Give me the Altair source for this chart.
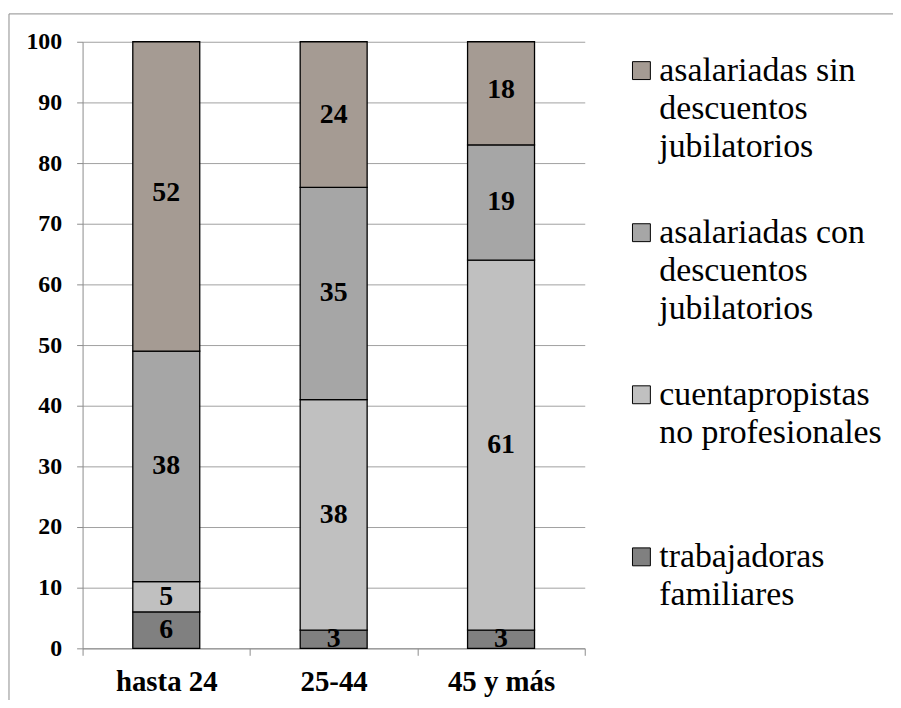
import altair as alt
import pandas as pd

categories = ["hasta 24", "25-44", "45 y más"]
series = [
    "asalariadas sin descuentos jubilatorios",
    "asalariadas con descuentos jubilatorios",
    "cuentapropistas no profesionales",
    "trabajadoras familiares",
]
trabajadoras = [6, 3, 3]
cuentapropistas = [5, 38, 61]
asalariadas_con = [38, 35, 19]
asalariadas_sin = [52, 24, 18]
colors = ["#a59b93", "#a6a6a6", "#c0c0c0", "#808080"]
y_ticks = list(range(0, 101, 10))

rows = []
for i, c in enumerate(categories):
    for s, vals, rank in [
        (series[3], trabajadoras, 0),
        (series[2], cuentapropistas, 1),
        (series[1], asalariadas_con, 2),
        (series[0], asalariadas_sin, 3),
    ]:
        rows.append({"grupo": c, "serie": s, "valor": vals[i], "orden": rank})
df = pd.DataFrame(rows)

FONT = "Liberation Serif, DejaVu Serif, serif"
GRAY = "#8c8c8c"

label_expr = (
    "datum.label == 'asalariadas sin descuentos jubilatorios' ? ['asalariadas sin', 'descuentos', 'jubilatorios'] : "
    "datum.label == 'asalariadas con descuentos jubilatorios' ? ['asalariadas con', 'descuentos', 'jubilatorios'] : "
    "datum.label == 'cuentapropistas no profesionales' ? ['cuentapropistas', 'no profesionales', ' '] : "
    "['trabajadoras', 'familiares', ' ']"
)

x_enc = alt.X(
    "grupo:N",
    sort=categories,
    scale=alt.Scale(paddingInner=0, paddingOuter=0),
    axis=alt.Axis(
        title=None, labelAngle=0, tickBand="extent", grid=False,
        domainColor=GRAY, tickColor=GRAY, tickSize=7,
        labelFont=FONT, labelFontSize=29, labelFontWeight="bold",
        labelColor="black", labelPadding=12,
    ),
)
y_scale = alt.Scale(domain=[0, 100], clamp=True, nice=False)

bars = alt.Chart(df).mark_bar(
    width=alt.RelativeBandSize(0.4), stroke="black", strokeWidth=1.3
).encode(
    x=x_enc,
    y=alt.Y(
        "valor:Q", stack="zero", scale=y_scale,
        axis=alt.Axis(
            title=None, values=y_ticks, grid=True, gridColor="#a0a0a0",
            domainColor=GRAY, tickColor=GRAY, tickSize=6,
            labelFont=FONT, labelFontSize=24, labelFontWeight="bold",
            labelColor="black", labelPadding=15,
        ),
    ),
    color=alt.Color(
        "serie:N",
        scale=alt.Scale(domain=series, range=colors),
        legend=alt.Legend(
            title=None, orient="none", legendX=545, legendY=12, padding=0,
            symbolType="square", symbolSize=324, symbolStrokeColor="black",
            symbolStrokeWidth=1, symbolOpacity=1,
            labelFont=FONT, labelFontSize=34, labelColor="black", labelLimit=0,
            labelOffset=1, labelBaseline="middle",
            rowPadding=52, labelExpr=label_expr,
        ),
    ),
    order=alt.Order("orden:Q", sort="ascending"),
)

labels = alt.Chart(df).transform_stack(
    stack="valor", groupby=["grupo"], sort=[alt.SortField("orden")], as_=["v0", "v1"]
).transform_calculate(
    mid="(datum.v0 + datum.v1) / 2"
).mark_text(
    font=FONT, fontSize=28, fontWeight="bold", color="black", baseline="middle"
).encode(
    x=alt.X("grupo:N", sort=categories),
    y=alt.Y("mid:Q", scale=y_scale),
    text=alt.Text("valor:Q"),
)

frame_df = pd.DataFrame({"k": [0]})
frame_left = alt.Chart(frame_df).mark_rule(color=GRAY, strokeWidth=1).encode(
    x=alt.value(-74), y=alt.value(-28), y2=alt.value(700)
)
frame_top = alt.Chart(frame_df).mark_rule(color=GRAY, strokeWidth=1).encode(
    x=alt.value(-74), x2=alt.value(900), y=alt.value(-28)
)

chart = alt.layer(frame_left, frame_top, bars, labels).properties(
    width=505, height=610,
    padding={"left": 75, "top": 32, "right": 310, "bottom": 50},
    autosize=alt.AutoSizeParams(type="none"),
).configure(
    font=FONT,
    style={"guide-label": {"lineHeight": 38.5, "font": FONT, "fill": "black"}}
).configure_axis(
    labelFont=FONT
).configure_legend(
    labelFont=FONT
).configure_view(strokeWidth=0)

chart.save("out.html", embed_options={"renderer": "svg", "actions": False})
